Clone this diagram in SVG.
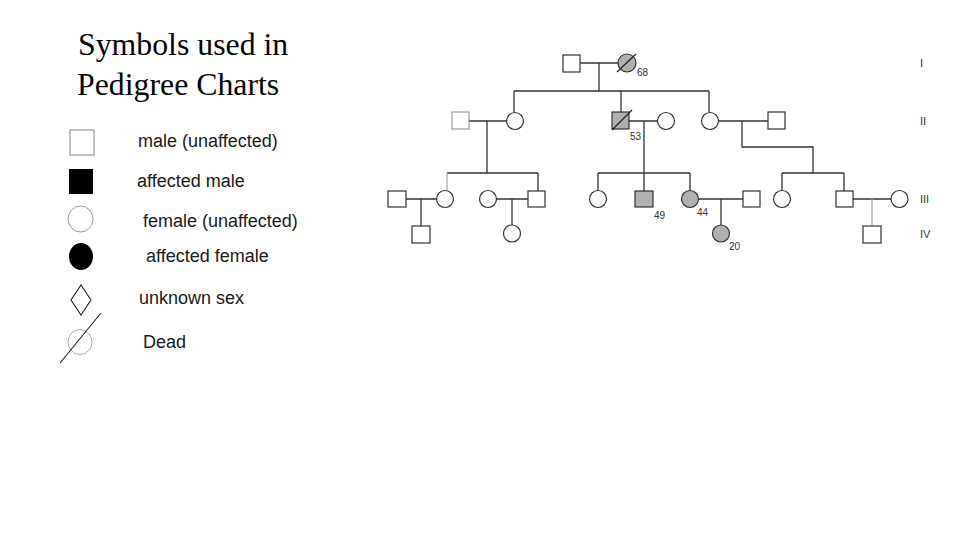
<svg xmlns="http://www.w3.org/2000/svg" width="960" height="540" viewBox="0 0 960 540">
<style>
.t{font-family:"Liberation Serif","Times New Roman",serif;font-size:31.8px;fill:#000}
.lg{font-family:"Liberation Sans",Arial,sans-serif;font-size:18px;fill:#1a1a1a}
.sm{font-family:"Liberation Sans",Arial,sans-serif;font-size:10px;fill:#333}
.gen{font-family:"Liberation Sans",Arial,sans-serif;font-size:11px;fill:#333}
.n{fill:#fff;stroke:#333;stroke-width:1.2}
.nl{fill:#fff;stroke:#999;stroke-width:1.2}
.a{fill:#b0b0b0;stroke:#333;stroke-width:1.2}
.c{fill:none;stroke:#333;stroke-width:1.3}
.cl{fill:none;stroke:#aaa;stroke-width:1.3}
.sl{stroke:#222;stroke-width:1.2}
</style>
<rect width="960" height="540" fill="#fff"/>
<text class="t" x="78" y="55">Symbols used in</text>
<text class="t" x="77" y="95">Pedigree Charts</text>

<g id="legend">
<rect x="70" y="130" width="24" height="25" fill="#fff" stroke="#999" stroke-width="1.2"/>
<rect x="69" y="169" width="24" height="25" fill="#000"/>
<ellipse cx="80.5" cy="219" rx="12.5" ry="13" fill="#fff" stroke="#999" stroke-width="1"/>
<ellipse cx="81" cy="256.5" rx="12" ry="13.5" fill="#000"/>
<polygon points="81,285 91,300 81,315 71,300" fill="#fff" stroke="#222" stroke-width="1.1"/>
<ellipse cx="80" cy="342" rx="12" ry="12.5" fill="#fff" stroke="#aaa" stroke-width="1"/>
<line x1="60" y1="363" x2="101" y2="313" stroke="#222" stroke-width="1.1"/>
<text class="lg" x="138" y="147">male (unaffected)</text>
<text class="lg" x="137" y="187">affected male</text>
<text class="lg" x="143" y="227">female (unaffected)</text>
<text class="lg" x="146" y="262">affected female</text>
<text class="lg" x="139" y="304">unknown sex</text>
<text class="lg" x="143" y="348">Dead</text>
</g>

<g id="connectors">
<path class="c" d="M580,63 H618 M599,63 V91 M514,91 H709 M514,91 V112 M621,91 V112 M709,91 V112"/>
<path class="c" d="M469,121 H506 M487,121 V173 M447,173 H538 M538,173 V191"/>
<path class="cl" d="M447,173 V191"/>
<path class="c" d="M629,121 H657 M644,121 V173 M598,173 H690 M598,173 V190 M644,173 V191 M690,173 V190"/>
<path class="c" d="M719,121 H768 M742,121 V147 H813 V173 M782,173 H844 M782,173 V190 M844,173 V191"/>
<path class="c" d="M406,199 H436 M421,199 V226"/>
<path class="c" d="M496,199 H528 M512,199 V225"/>
<path class="c" d="M699,199 H743 M721,199 V225"/>
<path class="c" d="M853,199 H891"/>
<path class="cl" d="M872,199 V226"/>
</g>

<g id="I-1"><rect class="n" x="563" y="55" width="17" height="17"/></g>
<g id="I-2"><circle class="a" cx="627" cy="63" r="9"/><line class="sl" x1="617" y1="72" x2="636" y2="54"/><text class="sm" x="637" y="76">68</text></g>

<g id="II-1"><rect class="nl" x="452" y="112" width="17" height="17"/></g>
<g id="II-2"><circle class="n" cx="515" cy="121" r="8.5"/></g>
<g id="II-3"><rect class="a" x="612" y="112" width="17" height="17"/><line class="sl" x1="612" y1="130" x2="632" y2="110"/><text class="sm" x="630" y="140">53</text></g>
<g id="II-4"><circle class="n" cx="666" cy="121" r="8.5"/></g>
<g id="II-5"><circle class="n" cx="710" cy="121" r="8.5"/></g>
<g id="II-6"><rect class="n" x="768" y="112" width="17" height="17"/></g>

<g id="III-1"><rect class="n" x="388" y="191" width="18" height="16"/></g>
<g id="III-2"><circle class="n" cx="445" cy="199" r="8.5"/></g>
<g id="III-3"><circle class="n" cx="488" cy="199" r="8.5"/></g>
<g id="III-4"><rect class="n" x="528" y="191" width="17" height="16"/></g>
<g id="III-5"><circle class="n" cx="598" cy="199" r="8.5"/></g>
<g id="III-6"><rect class="a" x="635" y="191" width="18" height="16"/><text class="sm" x="654" y="219">49</text></g>
<g id="III-7"><circle class="a" cx="690" cy="199" r="8.5"/><text class="sm" x="697" y="216">44</text></g>
<g id="III-8"><rect class="n" x="743" y="191" width="17" height="16"/></g>
<g id="III-9"><circle class="n" cx="782" cy="199" r="8.5"/></g>
<g id="III-10"><rect class="n" x="836" y="191" width="17" height="16"/></g>
<g id="III-11"><circle class="n" cx="899.5" cy="199" r="8.5"/></g>

<g id="IV-1"><rect class="n" x="412" y="226" width="18" height="17"/></g>
<g id="IV-2"><circle class="n" cx="512" cy="233.5" r="8.5"/></g>
<g id="IV-3"><circle class="a" cx="721" cy="233.5" r="8.5"/><text class="sm" x="729" y="250">20</text></g>
<g id="IV-4"><rect class="n" x="863" y="226" width="18" height="17"/></g>

<g id="gen-labels">
<text class="gen" x="920" y="67">I</text>
<text class="gen" x="920" y="125">II</text>
<text class="gen" x="920" y="203">III</text>
<text class="gen" x="920" y="238">IV</text>
</g>
</svg>
